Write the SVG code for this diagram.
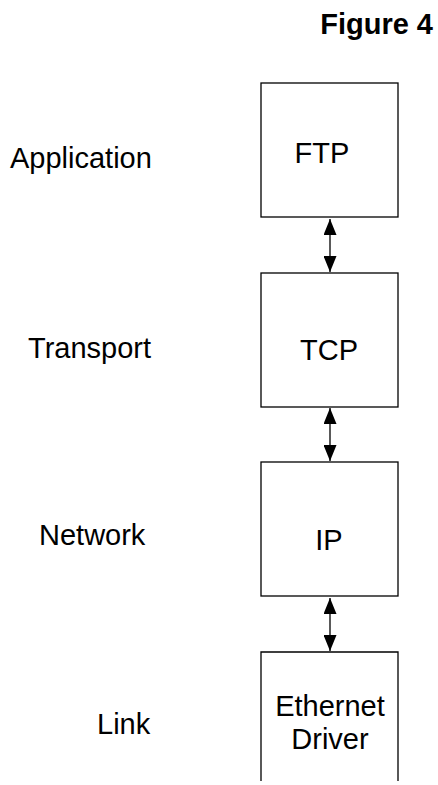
<svg xmlns="http://www.w3.org/2000/svg" width="438" height="785" viewBox="0 0 438 785">
<defs>
<marker id="ah" viewBox="0 0 16 13" refX="16" refY="6.5" markerWidth="16" markerHeight="13" markerUnits="userSpaceOnUse" orient="auto-start-reverse">
<path d="M0,0 L16,6.5 L0,13 Z" fill="#000"/>
</marker>
<style>
.box{fill:#fff;stroke:#000;stroke-width:1.3}
.t{font-family:"Liberation Sans",Arial,sans-serif;font-size:29px;fill:#000}
.c{text-anchor:middle}
.conn{stroke:#000;stroke-width:1.3;fill:none;marker-start:url(#ah);marker-end:url(#ah)}
</style>
</defs>
<rect width="438" height="785" fill="#fff"/>
<text class="t" x="433" y="34" text-anchor="end" font-weight="bold" font-size="30">Figure 4</text>
<g id="labels">
<text class="t" x="10" y="168">Application</text>
<text class="t" x="28" y="358">Transport</text>
<text class="t" x="39" y="545">Network</text>
<text class="t" x="97" y="734">Link</text>
</g>
<g id="ftp">
<rect class="box" x="261" y="83" width="137" height="134"/>
<text class="t c" x="322" y="163">FTP</text>
</g>
<g id="tcp">
<rect class="box" x="261" y="273" width="137" height="134"/>
<text class="t c" x="329" y="360">TCP</text>
</g>
<g id="ip">
<rect class="box" x="261" y="462" width="137" height="134"/>
<text class="t c" x="329" y="550">IP</text>
</g>
<g id="ethernet">
<path class="box" d="M261,781 V652 H398 V781"/>
<text class="t c" x="330" y="716">Ethernet</text>
<text class="t c" x="330" y="749">Driver</text>
</g>
<g id="connectors">
<line class="conn" x1="330" y1="219" x2="330" y2="272"/>
<line class="conn" x1="330" y1="408" x2="330" y2="461"/>
<line class="conn" x1="330" y1="598" x2="330" y2="651"/>
</g>
</svg>
